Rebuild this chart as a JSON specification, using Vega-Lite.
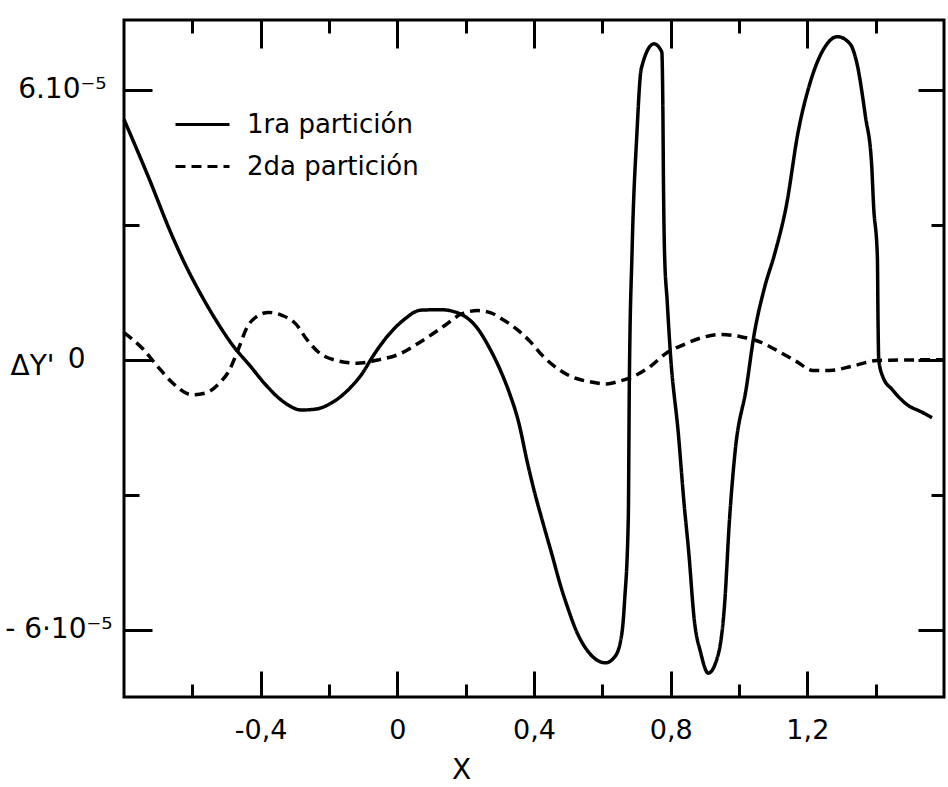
{
  "$schema": "https://vega.github.io/schema/vega-lite/v6.json",
  "width": 820,
  "height": 677,
  "autosize": {"type": "none"},
  "padding": {"left": 124, "top": 20, "right": 4, "bottom": 90},
  "background": "white",
  "config": {
    "view": {"stroke": "black", "strokeWidth": 3},
    "axis": {"domain": false, "grid": false, "tickColor": "black", "tickWidth": 3, "labelColor": "black", "titleColor": "black", "labelFont": "DejaVu Sans", "titleFont": "DejaVu Sans", "labelFontWeight": "normal", "titleFontWeight": "normal"}
  },
  "data": {
    "values": [
      {"s": "1ra partición", "x": -0.800, "y": 5.34e-5},
      {"s": "1ra partición", "x": -0.728, "y": 4.05e-5},
      {"s": "1ra partición", "x": -0.659, "y": 2.75e-5},
      {"s": "1ra partición", "x": -0.623, "y": 2.15e-5},
      {"s": "1ra partición", "x": -0.575, "y": 1.45e-5},
      {"s": "1ra partición", "x": -0.527, "y": 0.83e-5},
      {"s": "1ra partición", "x": -0.481, "y": 0.31e-5},
      {"s": "1ra partición", "x": -0.433, "y": -0.12e-5},
      {"s": "1ra partición", "x": -0.384, "y": -0.57e-5},
      {"s": "1ra partición", "x": -0.338, "y": -0.91e-5},
      {"s": "1ra partición", "x": -0.280, "y": -1.12e-5},
      {"s": "1ra partición", "x": -0.239, "y": -1.10e-5},
      {"s": "1ra partición", "x": -0.192, "y": -0.96e-5},
      {"s": "1ra partición", "x": -0.141, "y": -0.65e-5},
      {"s": "1ra partición", "x": -0.102, "y": -0.30e-5},
      {"s": "1ra partición", "x": -0.072, "y": 0.07e-5},
      {"s": "1ra partición", "x": -0.030, "y": 0.51e-5},
      {"s": "1ra partición", "x": 0.018, "y": 0.88e-5},
      {"s": "1ra partición", "x": 0.069, "y": 1.10e-5},
      {"s": "1ra partición", "x": 0.127, "y": 1.11e-5},
      {"s": "1ra partición", "x": 0.180, "y": 1.03e-5},
      {"s": "1ra partición", "x": 0.235, "y": 0.69e-5},
      {"s": "1ra partición", "x": 0.271, "y": 0.24e-5},
      {"s": "1ra partición", "x": 0.300, "y": -0.21e-5},
      {"s": "1ra partición", "x": 0.327, "y": -0.72e-5},
      {"s": "1ra partición", "x": 0.355, "y": -1.39e-5},
      {"s": "1ra partición", "x": 0.381, "y": -2.30e-5},
      {"s": "1ra partición", "x": 0.400, "y": -2.90e-5},
      {"s": "1ra partición", "x": 0.427, "y": -3.65e-5},
      {"s": "1ra partición", "x": 0.455, "y": -4.40e-5},
      {"s": "1ra partición", "x": 0.476, "y": -4.98e-5},
      {"s": "1ra partición", "x": 0.498, "y": -5.50e-5},
      {"s": "1ra partición", "x": 0.525, "y": -6.05e-5},
      {"s": "1ra partición", "x": 0.565, "y": -6.55e-5},
      {"s": "1ra partición", "x": 0.609, "y": -6.74e-5},
      {"s": "1ra partición", "x": 0.638, "y": -6.59e-5},
      {"s": "1ra partición", "x": 0.658, "y": -6.04e-5},
      {"s": "1ra partición", "x": 0.665, "y": -5.38e-5},
      {"s": "1ra partición", "x": 0.676, "y": -3.53e-5},
      {"s": "1ra partición", "x": 0.679, "y": -0.55e-5},
      {"s": "1ra partición", "x": 0.687, "y": 2.40e-5},
      {"s": "1ra partición", "x": 0.701, "y": 5.00e-5},
      {"s": "1ra partición", "x": 0.714, "y": 6.47e-5},
      {"s": "1ra partición", "x": 0.751, "y": 7.02e-5},
      {"s": "1ra partición", "x": 0.774, "y": 6.84e-5},
      {"s": "1ra partición", "x": 0.777, "y": 5.72e-5},
      {"s": "1ra partición", "x": 0.779, "y": 3.88e-5},
      {"s": "1ra partición", "x": 0.782, "y": 2.39e-5},
      {"s": "1ra partición", "x": 0.790, "y": 1.28e-5},
      {"s": "1ra partición", "x": 0.799, "y": 0.16e-5},
      {"s": "1ra partición", "x": 0.823, "y": -1.69e-5},
      {"s": "1ra partición", "x": 0.839, "y": -3.18e-5},
      {"s": "1ra partición", "x": 0.853, "y": -4.29e-5},
      {"s": "1ra partición", "x": 0.869, "y": -5.78e-5},
      {"s": "1ra partición", "x": 0.888, "y": -6.52e-5},
      {"s": "1ra partición", "x": 0.910, "y": -6.97e-5},
      {"s": "1ra partición", "x": 0.940, "y": -6.53e-5},
      {"s": "1ra partición", "x": 0.958, "y": -5.42e-5},
      {"s": "1ra partición", "x": 0.972, "y": -3.58e-5},
      {"s": "1ra partición", "x": 0.988, "y": -2.09e-5},
      {"s": "1ra partición", "x": 1.022, "y": -0.60e-5},
      {"s": "1ra partición", "x": 1.043, "y": 0.50e-5},
      {"s": "1ra partición", "x": 1.075, "y": 1.61e-5},
      {"s": "1ra partición", "x": 1.104, "y": 2.34e-5},
      {"s": "1ra partición", "x": 1.139, "y": 3.44e-5},
      {"s": "1ra partición", "x": 1.173, "y": 5.06e-5},
      {"s": "1ra partición", "x": 1.206, "y": 6.10e-5},
      {"s": "1ra partición", "x": 1.249, "y": 6.92e-5},
      {"s": "1ra partición", "x": 1.288, "y": 7.18e-5},
      {"s": "1ra partición", "x": 1.325, "y": 7.02e-5},
      {"s": "1ra partición", "x": 1.345, "y": 6.59e-5},
      {"s": "1ra partición", "x": 1.370, "y": 5.41e-5},
      {"s": "1ra partición", "x": 1.388, "y": 4.36e-5},
      {"s": "1ra partición", "x": 1.394, "y": 3.41e-5},
      {"s": "1ra partición", "x": 1.405, "y": 2.29e-5},
      {"s": "1ra partición", "x": 1.407, "y": 0.80e-5},
      {"s": "1ra partición", "x": 1.409, "y": 0.00},
      {"s": "1ra partición", "x": 1.421, "y": -0.38e-5},
      {"s": "1ra partición", "x": 1.449, "y": -0.67e-5},
      {"s": "1ra partición", "x": 1.490, "y": -0.99e-5},
      {"s": "1ra partición", "x": 1.536, "y": -1.17e-5},
      {"s": "1ra partición", "x": 1.565, "y": -1.29e-5},
      {"s": "2da partición", "x": -0.800, "y": 0.60e-5},
      {"s": "2da partición", "x": -0.745, "y": 0.24e-5},
      {"s": "2da partición", "x": -0.705, "y": -0.12e-5},
      {"s": "2da partición", "x": -0.659, "y": -0.51e-5},
      {"s": "2da partición", "x": -0.601, "y": -0.78e-5},
      {"s": "2da partición", "x": -0.560, "y": -0.74e-5},
      {"s": "2da partición", "x": -0.522, "y": -0.53e-5},
      {"s": "2da partición", "x": -0.492, "y": -0.24e-5},
      {"s": "2da partición", "x": -0.467, "y": 0.20e-5},
      {"s": "2da partición", "x": -0.439, "y": 0.73e-5},
      {"s": "2da partición", "x": -0.409, "y": 0.97e-5},
      {"s": "2da partición", "x": -0.377, "y": 1.05e-5},
      {"s": "2da partición", "x": -0.336, "y": 0.98e-5},
      {"s": "2da partición", "x": -0.298, "y": 0.80e-5},
      {"s": "2da partición", "x": -0.264, "y": 0.44e-5},
      {"s": "2da partición", "x": -0.227, "y": 0.14e-5},
      {"s": "2da partición", "x": -0.177, "y": -0.02e-5},
      {"s": "2da partición", "x": -0.119, "y": -0.08e-5},
      {"s": "2da partición", "x": -0.052, "y": 0.00},
      {"s": "2da partición", "x": 0.008, "y": 0.13e-5},
      {"s": "2da partición", "x": 0.052, "y": 0.32e-5},
      {"s": "2da partición", "x": 0.097, "y": 0.54e-5},
      {"s": "2da partición", "x": 0.141, "y": 0.77e-5},
      {"s": "2da partición", "x": 0.186, "y": 1.01e-5},
      {"s": "2da partición", "x": 0.236, "y": 1.09e-5},
      {"s": "2da partición", "x": 0.274, "y": 1.04e-5},
      {"s": "2da partición", "x": 0.311, "y": 0.88e-5},
      {"s": "2da partición", "x": 0.352, "y": 0.66e-5},
      {"s": "2da partición", "x": 0.389, "y": 0.40e-5},
      {"s": "2da partición", "x": 0.426, "y": 0.08e-5},
      {"s": "2da partición", "x": 0.475, "y": -0.23e-5},
      {"s": "2da partición", "x": 0.513, "y": -0.39e-5},
      {"s": "2da partición", "x": 0.562, "y": -0.49e-5},
      {"s": "2da partición", "x": 0.612, "y": -0.54e-5},
      {"s": "2da partición", "x": 0.650, "y": -0.48e-5},
      {"s": "2da partición", "x": 0.689, "y": -0.38e-5},
      {"s": "2da partición", "x": 0.739, "y": -0.16e-5},
      {"s": "2da partición", "x": 0.790, "y": 0.16e-5},
      {"s": "2da partición", "x": 0.837, "y": 0.33e-5},
      {"s": "2da partición", "x": 0.888, "y": 0.48e-5},
      {"s": "2da partición", "x": 0.946, "y": 0.56e-5},
      {"s": "2da partición", "x": 1.005, "y": 0.51e-5},
      {"s": "2da partición", "x": 1.063, "y": 0.39e-5},
      {"s": "2da partición", "x": 1.121, "y": 0.16e-5},
      {"s": "2da partición", "x": 1.170, "y": -0.05e-5},
      {"s": "2da partición", "x": 1.216, "y": -0.24e-5},
      {"s": "2da partición", "x": 1.266, "y": -0.24e-5},
      {"s": "2da partición", "x": 1.334, "y": -0.14e-5},
      {"s": "2da partición", "x": 1.404, "y": -0.02e-5},
      {"s": "2da partición", "x": 1.472, "y": -0.01e-5},
      {"s": "2da partición", "x": 1.600, "y": 0.00}
    ]
  },
  "layer": [
    {
      "mark": {"type": "line", "strokeWidth": 3.5, "color": "black", "interpolate": "monotone"},
      "encoding": {
        "x": {
          "field": "x", "type": "quantitative",
          "scale": {"domain": [-0.8, 1.6], "nice": false, "zero": false},
          "axis": {
            "orient": "bottom",
            "values": [-0.6, -0.4, -0.2, 0, 0.2, 0.4, 0.6, 0.8, 1, 1.2, 1.4],
            "tickSize": {"condition": {"test": "round(datum.value*10) % 4 == 0", "value": -26}, "value": -13},
            "labelExpr": "round(datum.value*10) % 4 == 0 ? (datum.value == 0 ? '0' : replace(toString(datum.value), '.', ',')) : ''",
            "labelFontSize": 27,
            "labelPadding": 46,
            "labelFlush": false,
            "title": "X",
            "titleFontSize": 28,
            "titleX": 337,
            "titleY": 73,
            "titleAlign": "center",
            "titleBaseline": "middle"
          }
        },
        "y": {
          "field": "y", "type": "quantitative",
          "scale": {"domain": [-7.5e-5, 7.55e-5], "nice": false, "zero": false},
          "axis": {
            "orient": "left",
            "values": [-6e-5, -3e-5, 0, 3e-5, 6e-5],
            "tickSize": {"condition": {"test": "abs(datum.value) > 4e-5 || datum.value == 0", "value": -28}, "value": -15},
            "labelExpr": "datum.value > 4e-5 ? '6.10⁻⁵' : (datum.value < -4e-5 ? '- 6·10⁻⁵' : (datum.value == 0 ? '0' : ''))",
            "labelFontSize": 28,
            "labelPadding": {"condition": [{"test": "datum.value == 0", "value": 67}, {"test": "datum.value > 0", "value": 46}], "value": 40},
            "title": "ΔY'",
            "titleAngle": 0,
            "titleX": -114,
            "titleY": 346,
            "titleAlign": "left",
            "titleBaseline": "middle",
            "titleFontSize": 28
          }
        },
        "strokeDash": {
          "field": "s", "type": "nominal",
          "scale": {"domain": ["1ra partición", "2da partición"], "range": [[1, 0], [10, 6]]},
          "legend": {
            "title": null,
            "orient": "none",
            "legendX": 50,
            "legendY": 76,
            "symbolType": "stroke",
            "symbolSize": 2916,
            "symbolStrokeWidth": 3,
            "symbolStrokeColor": "black",
            "labelFontSize": 26,
            "labelFont": "DejaVu Sans",
            "labelColor": "black",
            "labelOffset": 16,
            "labelLimit": 400,
            "rowPadding": -26,
            "padding": 0
          }
        }
      }
    },
    {
      "mark": {"type": "line", "opacity": 0},
      "encoding": {
        "x": {
          "field": "x", "type": "quantitative",
          "axis": {
            "orient": "top",
            "values": [-0.6, -0.4, -0.2, 0, 0.2, 0.4, 0.6, 0.8, 1, 1.2, 1.4],
            "tickSize": {"condition": {"test": "round(datum.value*10) % 4 == 0", "value": -28}, "value": -13},
            "labels": false,
            "title": null
          }
        },
        "y": {
          "field": "y", "type": "quantitative",
          "axis": {
            "orient": "right",
            "values": [-6e-5, -3e-5, 0, 3e-5, 6e-5],
            "tickSize": {"condition": {"test": "abs(datum.value) > 4e-5 || datum.value == 0", "value": -26}, "value": -13},
            "labels": false,
            "title": null
          }
        },
        "detail": {"field": "s", "type": "nominal"}
      }
    }
  ],
  "resolve": {"axis": {"x": "independent", "y": "independent"}}
}
